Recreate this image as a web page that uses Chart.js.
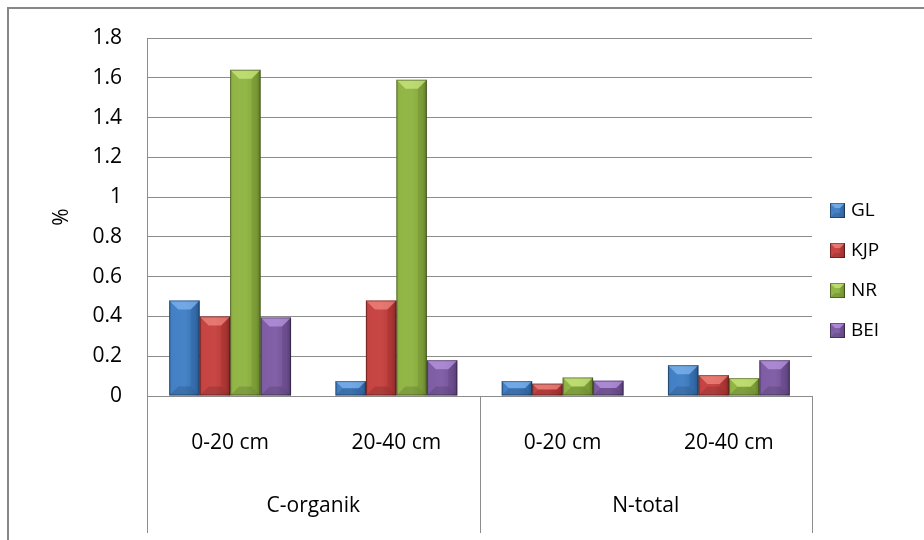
<!DOCTYPE html>
<html>
<head>
<meta charset="utf-8">
<script src="https://cdn.jsdelivr.net/npm/chart.js@4.4.1/dist/chart.umd.min.js"></script>
<style>
  html, body { margin: 0; padding: 0; background: #fff; }
  #wrap { width: 924px; height: 540px; }
</style>
</head>
<body>
<div id="wrap"><canvas id="soilChart" width="924" height="540"></canvas></div>
<script>
// soil depth classes, grouped by parameter
const depthLabels = ["0-20 cm", "20-40 cm", "0-20 cm", "20-40 cm"];
const groupLabels = ["C-organik", "N-total"];

// values in % per land use
const glValues = [0.48, 0.075, 0.075, 0.155];
const kjpValues = [0.40, 0.48, 0.062, 0.105];
const nrValues = [1.64, 1.59, 0.093, 0.09];
const beiValues = [0.395, 0.18, 0.077, 0.18];

const yTicks = [0, 0.2, 0.4, 0.6, 0.8, 1, 1.2, 1.4, 1.6, 1.8];

const FONT = '"Open Sans", sans-serif';
const LINE = "#8c8c8c";

// base fill + light top bevel per series
const palette = {
    GL: ["#3b7bc3", "rgba(150,200,255,0.55)"],
    KJP: ["#c43c3a", "rgba(255,160,150,0.55)"],
    NR: ["#8db23e", "rgba(215,245,140,0.6)"],
    BEI: ["#7a57a2", "rgba(205,170,245,0.55)"]
};

function poly(ctx, pts) {
    ctx.beginPath();
    ctx.moveTo(pts[0][0], pts[0][1]);
    for (let i = 1; i < pts.length; i++) ctx.lineTo(pts[i][0], pts[i][1]);
    ctx.closePath();
    ctx.fill();
}

// beveled look painted over a rectangle
function shadeBox(ctx, l, t, r, b, light) {
    const w = r - l, h = b - t;
    if (w <= 0 || h <= 0) return;
    const d = Math.min(9, h / 2, w / 3);
    ctx.save();
    const g = ctx.createLinearGradient(l, 0, r, 0);
    g.addColorStop(0, "rgba(0,0,0,0.12)");
    g.addColorStop(0.12, "rgba(255,255,255,0.04)");
    g.addColorStop(0.5, "rgba(255,255,255,0.06)");
    g.addColorStop(0.85, "rgba(0,0,0,0.06)");
    g.addColorStop(1, "rgba(0,0,0,0.25)");
    ctx.fillStyle = g;
    ctx.fillRect(l, t, w, h);
    ctx.fillStyle = light;
    poly(ctx, [[l, t], [r, t], [r - d, t + d], [l + d, t + d]]);
    ctx.fillStyle = "rgba(0,0,0,0.13)";
    poly(ctx, [[l, b], [r, b], [r - d, b - d], [l + d, b - d]]);
    ctx.fillStyle = "rgba(0,0,0,0.08)";
    poly(ctx, [[r, t], [r, b], [r - d, b - d], [r - d, t + d]]);
    ctx.strokeStyle = "rgba(0,0,0,0.35)";
    ctx.lineWidth = 1;
    ctx.strokeRect(l + 0.5, t + 0.5, w - 1, h - 1);
    ctx.restore();
}

const decor = {
    id: "decor",
    beforeDraw(chart) {
        const { ctx, width, height } = chart;
        ctx.save();
        ctx.fillStyle = "#fff";
        ctx.fillRect(0, 0, width, height);
        // outer frame (top and left edges)
        ctx.strokeStyle = "#878787";
        ctx.lineWidth = 2;
        ctx.beginPath();
        ctx.moveTo(8, height);
        ctx.lineTo(8, 8);
        ctx.lineTo(width, 8);
        ctx.stroke();
        ctx.restore();
    },
    afterDatasetsDraw(chart) {
        const ctx = chart.ctx;
        chart.data.datasets.forEach((ds, i) => {
            const meta = chart.getDatasetMeta(i);
            meta.data.forEach(bar => {
                const { x, y, base, width } = bar.getProps(["x", "y", "base", "width"], true);
                shadeBox(ctx, x - width / 2, y, x + width / 2, base, palette[ds.label][1]);
            });
        });
    },
    afterDraw(chart) {
        const { ctx, chartArea } = chart;
        const xs = chart.scales.x;
        const step = xs.getPixelForValue(1) - xs.getPixelForValue(0);
        ctx.save();
        // group separators below the axis
        ctx.strokeStyle = LINE;
        ctx.lineWidth = 1;
        const bounds = [0, 2, 4].map(i => xs.getPixelForValue(0) - step / 2 + i * step);
        bounds.forEach(px => {
            const x = Math.round(px) + 0.5;
            ctx.beginPath();
            ctx.moveTo(x, chartArea.bottom);
            ctx.lineTo(x, chartArea.bottom + 137);
            ctx.stroke();
        });
        // group labels
        ctx.fillStyle = "#000";
        ctx.font = "21px " + FONT;
        ctx.textAlign = "center";
        ctx.textBaseline = "middle";
        groupLabels.forEach((name, g) => {
            const cx = (xs.getPixelForValue(g * 2) + xs.getPixelForValue(g * 2 + 1)) / 2;
            ctx.fillText(name, cx, chartArea.bottom + 110);
        });
        // legend
        ctx.font = "19px " + FONT;
        ctx.textAlign = "left";
        const lx = chartArea.right + 18;
        chart.data.datasets.forEach((ds, i) => {
            const cy = 210 + i * 40;
            ctx.fillStyle = palette[ds.label][0];
            ctx.fillRect(lx, cy - 7, 15, 15);
            shadeBox(ctx, lx, cy - 7, lx + 15, cy + 8, palette[ds.label][1]);
            ctx.fillStyle = "#000";
            ctx.fillText(ds.label, lx + 21, cy + 1);
        });
        ctx.restore();
    }
};

const series = [
    ["GL", glValues],
    ["KJP", kjpValues],
    ["NR", nrValues],
    ["BEI", beiValues]
];

new Chart(document.getElementById("soilChart"), {
    type: "bar",
    data: {
        labels: depthLabels,
        datasets: series.map(([label, data]) => ({
            label,
            data,
            backgroundColor: palette[label][0],
            borderWidth: 0,
            barPercentage: 1,
            categoryPercentage: 0.733
        }))
    },
    options: {
        responsive: false,
        animation: false,
        devicePixelRatio: 1,
        layout: { padding: { top: 38, right: 112, bottom: 0, left: 0 } },
        plugins: {
            legend: { display: false },
            tooltip: { enabled: false }
        },
        scales: {
            x: {
                grid: { display: false },
                border: { display: true, color: LINE, width: 1 },
                ticks: {
                    color: "#000",
                    font: { family: FONT, size: 21 },
                    padding: 26,
                    maxRotation: 0
                },
                afterFit: scale => { scale.height = 144; }
            },
            y: {
                min: 0,
                max: 1.8,
                afterBuildTicks: scale => { scale.ticks = yTicks.map(v => ({ value: v })); },
                grid: { color: LINE, drawTicks: false },
                border: { display: true, color: LINE, width: 1 },
                ticks: {
                    color: "#000",
                    font: { family: FONT, size: 21 },
                    padding: 25,
                    callback: v => String(v)
                },
                title: {
                    display: true,
                    text: "%",
                    color: "#000",
                    font: { family: FONT, size: 21 },
                    padding: { top: 49, bottom: 0 }
                },
                afterFit: scale => { scale.width = 147; }
            }
        }
    },
    plugins: [decor]
});
</script>
</body>
</html>
